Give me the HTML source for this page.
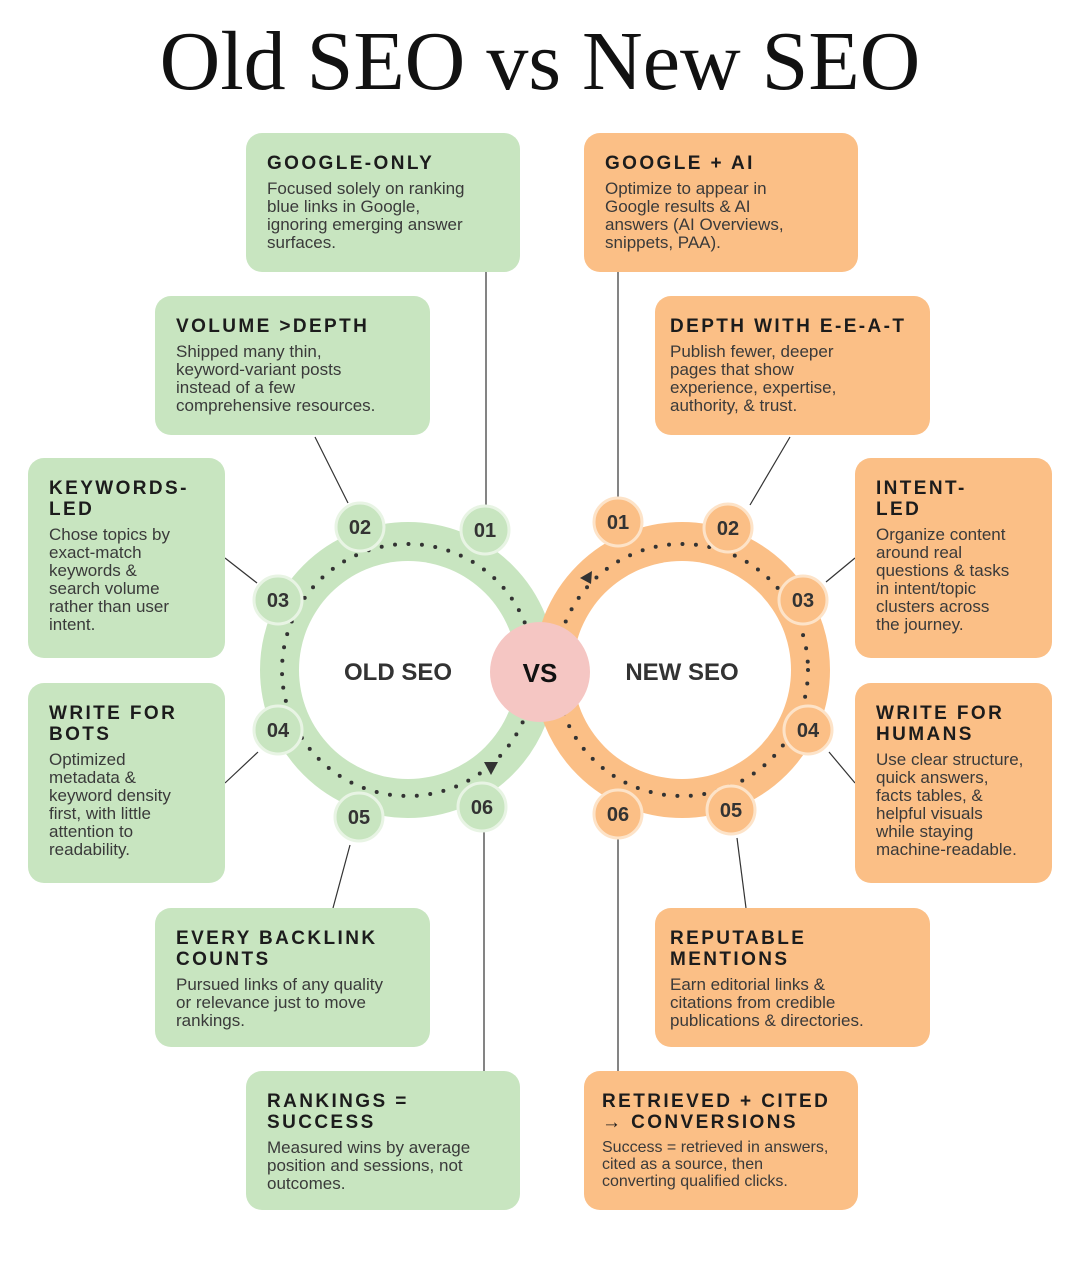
<!DOCTYPE html>
<html><head><meta charset="utf-8"><style>
body{margin:0;width:1080px;height:1274px;background:#fff;position:relative;overflow:hidden;font-family:"Liberation Sans",sans-serif}
h1{position:absolute;left:0;top:14px;width:1080px;margin:0;text-align:center;font-family:"Liberation Serif",serif;font-weight:normal;font-size:84px;color:#111;line-height:96px}
.b{position:absolute;border-radius:16px;box-sizing:border-box;padding:20px 0 0 21px}
.g{background:#c8e5c0}.o{background:#fbbf86}
.t{font-weight:bold;font-size:19px;letter-spacing:2.4px;color:#1c1c1c;line-height:21px;margin-bottom:6px}
.d{font-size:17px;line-height:18px;color:#3a3a3a}
svg{position:absolute;left:0;top:0}
</style></head><body>
<h1>Old SEO vs New SEO</h1>
<svg width="1080" height="1274">
<g stroke="#333" stroke-width="1.2">
<line x1="486" y1="272" x2="486" y2="507"/><line x1="315" y1="437" x2="348" y2="503"/>
<line x1="225" y1="558" x2="257" y2="583"/><line x1="225" y1="783" x2="258" y2="752"/>
<line x1="333" y1="908" x2="350" y2="845"/><line x1="484" y1="832" x2="484" y2="1071"/>
<line x1="618" y1="272" x2="618" y2="499"/><line x1="790" y1="437" x2="750" y2="505"/>
<line x1="855" y1="558" x2="826" y2="582"/><line x1="855" y1="783" x2="829" y2="752"/>
<line x1="737" y1="838" x2="746" y2="908"/><line x1="618" y1="838" x2="618" y2="1071"/>
</g>
<circle cx="408" cy="670" r="128" fill="none" stroke="#c8e5c0" stroke-width="40"/>
<circle cx="682" cy="670" r="128" fill="none" stroke="#fbbf86" stroke-width="40"/>
<circle cx="408" cy="670" r="109" fill="#fff"/>
<circle cx="682" cy="670" r="109" fill="#fff"/>
<circle cx="408" cy="670" r="126" fill="none" stroke="#333" stroke-width="4" stroke-linecap="round" stroke-dasharray="0 13.5"/>
<circle cx="682" cy="670" r="126" fill="none" stroke="#333" stroke-width="4" stroke-linecap="round" stroke-dasharray="0 13.5"/>
<polygon points="484,762 498,762 491,775" fill="#333"/>
<polygon points="580,578 592,571 591,584" fill="#333"/>
<circle cx="540" cy="672" r="50" fill="#f5c6c3"/>
<text x="540" y="682" text-anchor="middle" font-family="Liberation Sans" font-weight="bold" font-size="26" fill="#111">VS</text>
<text x="398" y="680" text-anchor="middle" font-family="Liberation Sans" font-weight="bold" font-size="24" fill="#333">OLD SEO</text>
<text x="682" y="680" text-anchor="middle" font-family="Liberation Sans" font-weight="bold" font-size="24" fill="#333">NEW SEO</text>
<g font-family="Liberation Sans" font-weight="bold" font-size="20" text-anchor="middle" fill="#333" stroke-width="3">
<g fill="#c8e5c0" stroke="#e8f4e4"><circle cx="485" cy="530" r="24"/><circle cx="360" cy="527" r="24"/><circle cx="278" cy="600" r="24"/><circle cx="278" cy="730" r="24"/><circle cx="359" cy="817" r="24"/><circle cx="482" cy="807" r="24"/></g>
<g fill="#fbbf86" stroke="#fde3c8"><circle cx="618" cy="522" r="24"/><circle cx="728" cy="528" r="24"/><circle cx="803" cy="600" r="24"/><circle cx="808" cy="730" r="24"/><circle cx="731" cy="810" r="24"/><circle cx="618" cy="814" r="24"/></g>
<text x="485" y="537">01</text><text x="360" y="534">02</text><text x="278" y="607">03</text><text x="278" y="737">04</text><text x="359" y="824">05</text><text x="482" y="814">06</text>
<text x="618" y="529">01</text><text x="728" y="535">02</text><text x="803" y="607">03</text><text x="808" y="737">04</text><text x="731" y="817">05</text><text x="618" y="821">06</text>
</g>
</svg>
<div class="b g" style="left:246px;top:133px;width:274px;height:139px"><div class="t">GOOGLE-ONLY</div><div class="d">Focused solely on ranking<br>blue links in Google,<br>ignoring emerging answer<br>surfaces.</div></div>
<div class="b g" style="left:155px;top:296px;width:275px;height:139px"><div class="t">VOLUME &gt;DEPTH</div><div class="d">Shipped many thin,<br>keyword-variant posts<br>instead of a few<br>comprehensive resources.</div></div>
<div class="b g" style="left:28px;top:458px;width:197px;height:200px"><div class="t">KEYWORDS-<br>LED</div><div class="d">Chose topics by<br>exact-match<br>keywords &amp;<br>search volume<br>rather than user<br>intent.</div></div>
<div class="b g" style="left:28px;top:683px;width:197px;height:200px"><div class="t">WRITE FOR<br>BOTS</div><div class="d">Optimized<br>metadata &amp;<br>keyword density<br>first, with little<br>attention to<br>readability.</div></div>
<div class="b g" style="left:155px;top:908px;width:275px;height:139px"><div class="t">EVERY BACKLINK<br>COUNTS</div><div class="d">Pursued links of any quality<br>or relevance just to move<br>rankings.</div></div>
<div class="b g" style="left:246px;top:1071px;width:274px;height:139px"><div class="t">RANKINGS =<br>SUCCESS</div><div class="d">Measured wins by average<br>position and sessions, not<br>outcomes.</div></div>
<div class="b o" style="left:584px;top:133px;width:274px;height:139px"><div class="t">GOOGLE + AI</div><div class="d">Optimize to appear in<br>Google results &amp; AI<br>answers (AI Overviews,<br>snippets, PAA).</div></div>
<div class="b o" style="left:655px;top:296px;width:275px;height:139px;padding-left:15px"><div class="t">DEPTH WITH E-E-A-T</div><div class="d">Publish fewer, deeper<br>pages that show<br>experience, expertise,<br>authority, &amp; trust.</div></div>
<div class="b o" style="left:855px;top:458px;width:197px;height:200px"><div class="t">INTENT-<br>LED</div><div class="d">Organize content<br>around real<br>questions &amp; tasks<br>in intent/topic<br>clusters across<br>the journey.</div></div>
<div class="b o" style="left:855px;top:683px;width:197px;height:200px"><div class="t">WRITE FOR<br>HUMANS</div><div class="d">Use clear structure,<br>quick answers,<br>facts tables, &amp;<br>helpful visuals<br>while staying<br>machine-readable.</div></div>
<div class="b o" style="left:655px;top:908px;width:275px;height:139px;padding-left:15px"><div class="t">REPUTABLE<br>MENTIONS</div><div class="d">Earn editorial links &amp;<br>citations from credible<br>publications &amp; directories.</div></div>
<div class="b o" style="left:584px;top:1071px;width:274px;height:139px;padding-left:18px"><div class="t">RETRIEVED + CITED<br>→ CONVERSIONS</div><div class="d" style="font-size:16px;line-height:17px">Success = retrieved in answers,<br>cited as a source, then<br>converting qualified clicks.</div></div>
</body></html>
